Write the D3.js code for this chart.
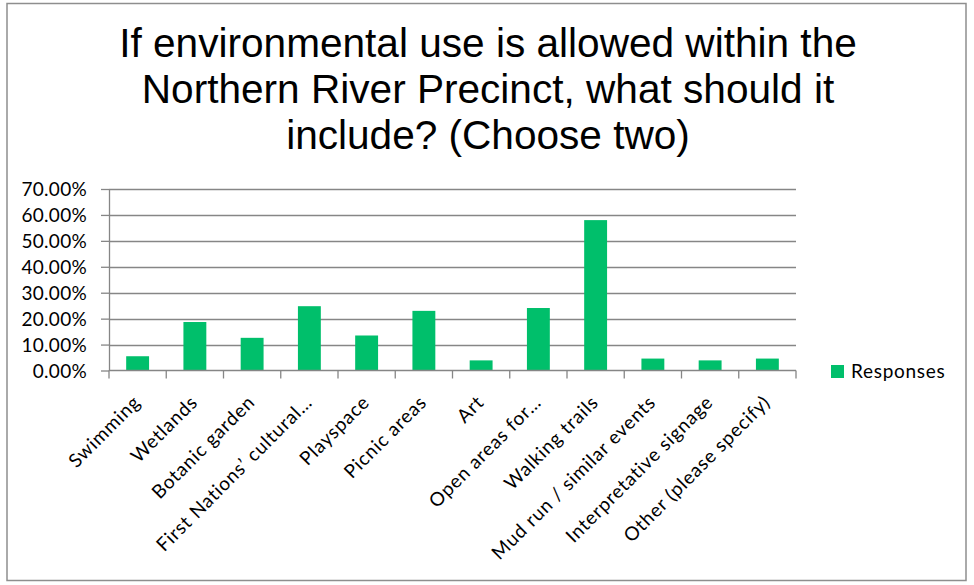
<!DOCTYPE html>
<html><head><meta charset="utf-8">
<script src="https://cdn.jsdelivr.net/npm/d3@7"></script>
<style>body{margin:0;background:#fff;} svg{display:block;}</style>
</head><body>
<svg id="c" width="974" height="585"></svg>
<script>
const titleLines = ["If environmental use is allowed within the", "Northern River Precinct, what should it", "include? (Choose two)"];
const categories = ["Swimming","Wetlands","Botanic garden","First Nations’ cultural…","Playspace","Picnic areas","Art","Open areas for…","Walking trails","Mud run / similar events","Interpretative signage","Other (please specify)"];
const responses = [0.055, 0.187, 0.126, 0.248, 0.135, 0.230, 0.039, 0.241, 0.580, 0.046, 0.039, 0.046];
const yTicks = [0, 0.1, 0.2, 0.3, 0.4, 0.5, 0.6, 0.7];
const seriesName = "Responses";

const svg = d3.select("#c");
const plot = {left: 109, right: 796, top: 189, bottom: 370.5};
const green = "#00BF6B";
const labelFont = "Lato, 'Open Sans', sans-serif";
const labelSize = 19, labelSpacing = "0.8px";

svg.append("rect").attr("x", 7).attr("y", 3.5).attr("width", 959).attr("height", 577)
  .attr("fill", "#fff").attr("stroke", "#8e8e8e").attr("stroke-width", 1.5);

const title = svg.append("text").attr("text-anchor", "middle")
  .attr("font-family", "'Liberation Sans', Arial, sans-serif").attr("font-size", 40.6).attr("fill", "#000");
titleLines.forEach((t, i) => title.append("tspan").attr("x", 488).attr("y", 57 + i * 46).text(t));

const x = d3.scaleBand().domain(categories).range([plot.left, plot.right]).paddingInner(0.6).paddingOuter(0.3);
const xb = d3.scaleBand().domain(categories).range([plot.left, plot.right]).padding(0);
const y = d3.scaleLinear().domain([0, 0.7]).range([plot.bottom, plot.top]);

// gridlines
svg.append("g").selectAll("line").data(yTicks.slice(1)).join("line")
  .attr("x1", plot.left).attr("x2", plot.right)
  .attr("y1", d => Math.round(y(d)) + 0.5).attr("y2", d => Math.round(y(d)) + 0.5)
  .attr("stroke", "#868686").attr("stroke-width", 1.3);

// y axis
const yAxis = svg.append("g").attr("transform", `translate(${plot.left},0)`)
  .call(d3.axisLeft(y).tickValues(yTicks).tickFormat(d3.format(".2%")).tickSizeOuter(0).tickSizeInner(8).tickPadding(14));
yAxis.select(".domain").attr("stroke", "#868686").attr("stroke-width", 1.3);
yAxis.selectAll(".tick line").attr("stroke", "#868686").attr("stroke-width", 1.3);
yAxis.selectAll(".tick text").attr("font-family", labelFont).attr("font-size", labelSize)
  .attr("letter-spacing", "0.3px").attr("fill", "#000").attr("dy", "0.36em");

// bars
svg.append("g").selectAll("rect").data(categories).join("rect")
  .attr("x", d => x(d)).attr("width", x.bandwidth())
  .attr("y", (d, i) => y(responses[i])).attr("height", (d, i) => y(0) - y(responses[i]))
  .attr("fill", green);

// x axis line and tick marks at boundaries
const xg = svg.append("g");
xg.append("line").attr("x1", plot.left).attr("x2", plot.right).attr("y1", plot.bottom).attr("y2", plot.bottom)
  .attr("stroke", "#868686").attr("stroke-width", 1.3);
const bounds = categories.map(c => xb(c)).concat([plot.right]);
xg.selectAll("line.tk").data(bounds).join("line").attr("class", "tk")
  .attr("x1", d => d).attr("x2", d => d).attr("y1", plot.bottom).attr("y2", plot.bottom + 8)
  .attr("stroke", "#868686").attr("stroke-width", 1.3);

// x labels
svg.append("g").selectAll("text").data(categories).join("text")
  .attr("transform", d => `translate(${xb(d) + xb.bandwidth() / 2 + 4},${plot.bottom + 33}) rotate(-45)`)
  .attr("text-anchor", "end").attr("font-family", labelFont).attr("font-size", labelSize)
  .attr("letter-spacing", labelSpacing).attr("fill", "#000")
  .text(d => d);

// legend
const lg = svg.append("g").attr("transform", "translate(831,365)");
lg.append("rect").attr("width", 13).attr("height", 13).attr("fill", green);
lg.append("text").attr("x", 20).attr("y", 13).attr("font-family", labelFont).attr("font-size", labelSize)
  .attr("letter-spacing", "0.7px").attr("fill", "#000").text(seriesName);
</script>
</body></html>
